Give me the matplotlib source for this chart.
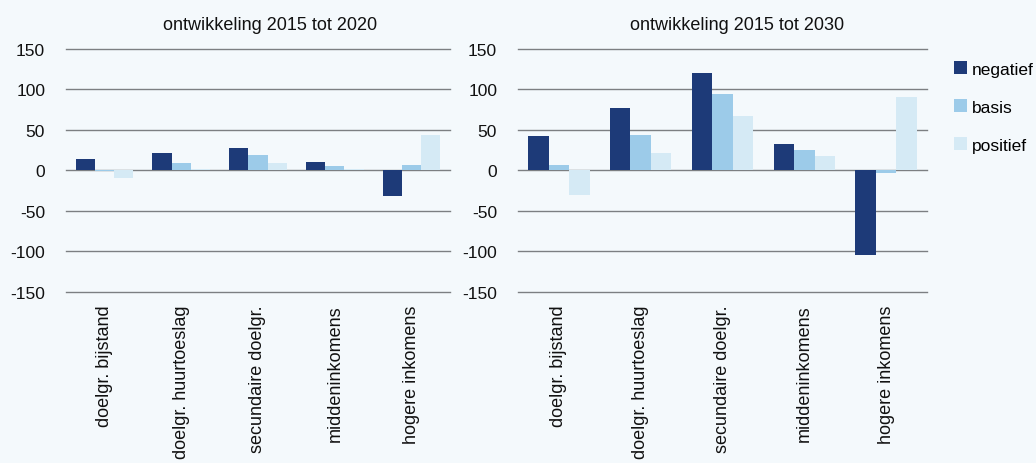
import numpy as np
import matplotlib.pyplot as plt
from matplotlib.patches import Patch

categories = ["doelgr. bijstand", "doelgr. huurtoeslag", "secundaire doelgr.",
              "middeninkomens", "hogere inkomens"]
series = ["negatief", "basis", "positief"]

# ontwikkeling 2015 tot 2020
negatief_2020 = [14, 21, 28, 10, -32]
basis_2020 = [-1, 9, 19, 5, 7]
positief_2020 = [-9, 1, 9, 1, 44]

# ontwikkeling 2015 tot 2030
negatief_2030 = [42, 77, 120, 32, -104]
basis_2030 = [7, 44, 94, 25, -3]
positief_2030 = [-30, 21, 67, 18, 90]

titles = ["ontwikkeling 2015 tot 2020", "ontwikkeling 2015 tot 2030"]
yticks = [-150, -100, -50, 0, 50, 100, 150]

colors = ["#1d3a78", "#9ccbe9", "#d5eaf5"]
bg = "#f4f9fc"

plt.rcParams["font.family"] = ["Liberation Sans", "DejaVu Sans"]

W, H = 1036, 464
fig = plt.figure(figsize=(W / 100, H / 100), dpi=100, facecolor=bg)


def px_axes(x0, x1, y0, y1):
    return fig.add_axes([x0 / W, 1 - y1 / H, (x1 - x0) / W, (y1 - y0) / H])


ax1 = px_axes(66, 450, 49.5, 293)
ax2 = px_axes(518, 927, 49.5, 293)

data = [
    [negatief_2020, basis_2020, positief_2020],
    [negatief_2030, basis_2030, positief_2030],
]
title_x = [270, 737]

x = np.arange(len(categories))
w = 0.25
for ax, title, d, tx in zip([ax1, ax2], titles, data, title_x):
    ax.set_facecolor(bg)
    for i, (vals, c) in enumerate(zip(d, colors)):
        ax.bar(x + (i - 1) * w, vals, width=w, color=c, zorder=3)
    ax.set_xlim(-0.5, len(categories) - 0.5)
    ax.set_ylim(-150, 150)
    ax.set_yticks(yticks)
    ax.set_yticklabels([str(t) for t in yticks], fontsize=12.5, color="#111111")
    ax.grid(axis="y", color="#7c7f82", linewidth=1.0, zorder=0)
    for gl in ax.get_ygridlines():
        gl.set_clip_on(False)
    ax.set_xticks(x)
    ax.set_xticklabels(categories, rotation=90, fontsize=13, color="#111111")
    ax.tick_params(axis="x", length=0, pad=9)
    ax.tick_params(axis="y", length=0, pad=15)
    for s in ax.spines.values():
        s.set_visible(False)
    fig.text(tx / W, 1 - 25 / H, title, fontsize=13, ha="center", va="center",
             color="#111111")

handles = [Patch(facecolor=c, label=s) for c, s in zip(colors, series)]
fig.legend(handles=handles, loc="upper left", bbox_to_anchor=(951 / W, 1 - 59 / H),
           frameon=False, fontsize=12.5, handlelength=0.75, handleheight=0.75,
           handletextpad=0.25, labelspacing=1.3, borderpad=0.2, borderaxespad=0)

fig.savefig("out.png", dpi=100, facecolor=bg)
